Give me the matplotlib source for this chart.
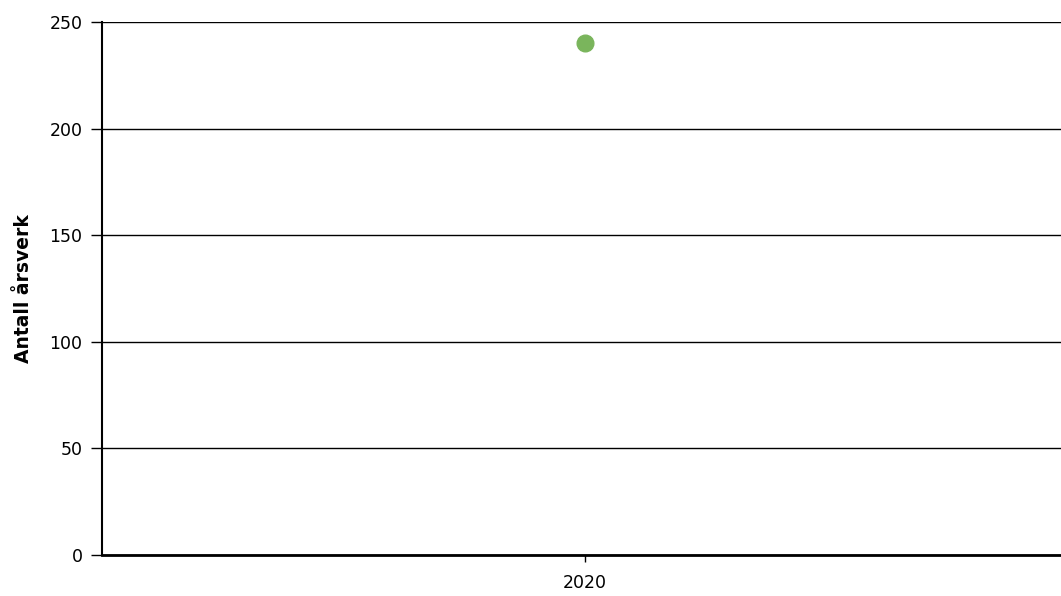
import matplotlib
matplotlib.use('Agg')
import matplotlib.pyplot as plt

years = ['2020']
arsverk = [240]

plt.rcParams['font.family'] = ['DejaVu Sans']

fig = plt.figure(figsize=(10.61, 5.96), dpi=100)
# plot area runs a little past the right edge of the image
ax = fig.add_axes([102/1061, 41/596, (1068 - 102)/1061, 533/596])

ax.plot(range(len(years)), arsverk, 'o', color='#7ab55c', markersize=12, zorder=3)

ax.set_xlim(-0.5, len(years) - 0.5)
ax.set_xticks(range(len(years)))
ax.set_xticklabels(years, fontsize=12.5)
ax.set_ylim(0, 250)
ax.set_yticks(range(0, 251, 50))
ax.tick_params(axis='y', labelsize=12.5, length=8, width=1, pad=6)
ax.tick_params(axis='x', length=5, width=1, pad=9)
ax.grid(axis='y', color='black', linewidth=1)
ax.set_axisbelow(True)

for s in ['top', 'right']:
    ax.spines[s].set_visible(False)
ax.spines['left'].set_linewidth(1.5)
ax.spines['bottom'].set_linewidth(2)

ax.set_ylabel('Antall årsverk', fontsize=13.5, fontweight='bold', labelpad=12)

fig.savefig('out.png', dpi=100)
